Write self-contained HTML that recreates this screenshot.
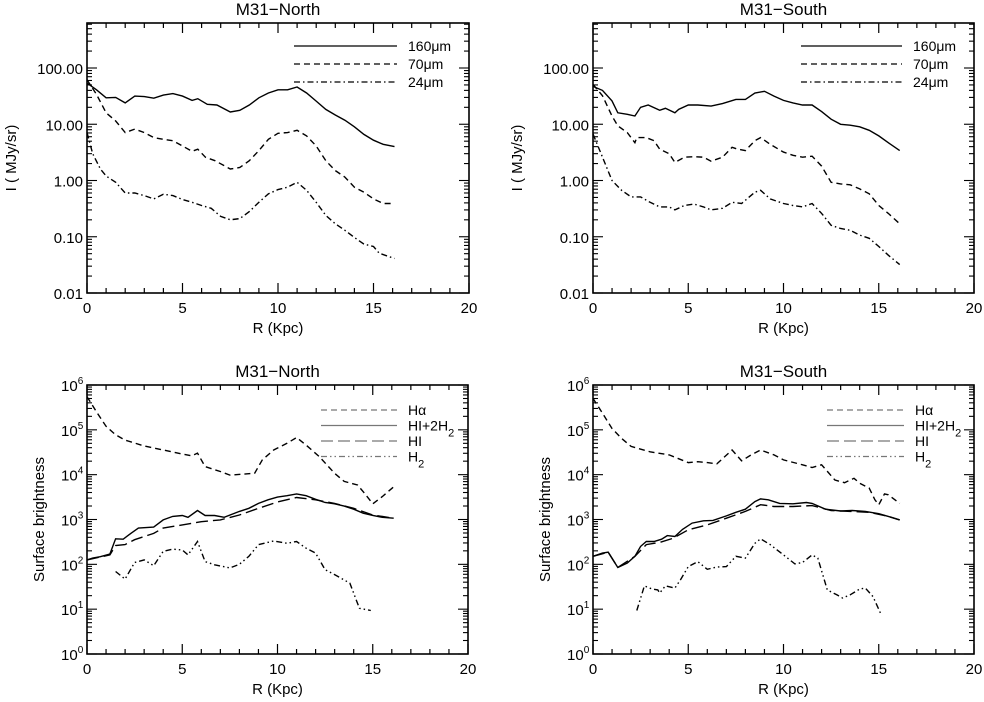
<!DOCTYPE html>
<html><head><meta charset="utf-8"><style>
html,body{margin:0;padding:0;background:#fff;}
svg{display:block;font-family:"Liberation Sans",sans-serif;}
</style></head><body>
<svg id="fig" width="984" height="702" viewBox="0 0 984 702" xmlns="http://www.w3.org/2000/svg"></svg>
<script>
// ---- Top panels: infrared intensity (MJy/sr) ----
const nR160 = [0,0.5,1,1.5,2,2.5,3,3.5,4,4.5,5,5.5,5.8,6.3,6.8,7.5,8,8.5,9,9.5,10,10.5,11,11.5,12,12.5,13,13.5,14,14.5,15,15.5,16.1];
const nV160 = [54,41,29.5,30,24,31.6,31,29,33,35,31.6,26.5,28.5,22.6,22,16.5,17.7,22,29.5,36,41,41,46,36,25.8,18.4,14.6,11.8,9,6.6,5.2,4.4,4.0];
const nR70 = [0,0.5,1,1.5,2,2.5,3,3.5,4,4.5,5,5.5,5.8,6.2,6.7,7.5,8,8.5,9,9.5,10,10.5,11,11.5,12,12.5,13,13.5,14,14.5,15,15.5,16.1];
const nV70 = [62,34,16,11.4,7.1,8.2,7.1,5.8,5.4,5.1,4.1,3.3,3.6,2.6,2.25,1.6,1.7,2.25,3.4,5.4,6.9,7.1,7.8,6.2,4.1,2.25,1.5,1.15,0.76,0.62,0.47,0.39,0.39];
const nR24 = [0,0.3,0.7,1,1.5,2,2.5,3,3.5,4,4.5,5,5.5,6,6.5,7,7.5,8,8.5,9,9.5,10,10.5,11,11.5,12,12.5,13,13.5,14,14.5,15,15.3,16.1];
const nV24 = [7.1,3,1.6,1.2,0.93,0.6,0.6,0.54,0.47,0.57,0.54,0.46,0.41,0.36,0.32,0.23,0.2,0.21,0.28,0.41,0.58,0.69,0.76,0.93,0.67,0.41,0.24,0.17,0.13,0.097,0.074,0.067,0.051,0.041];
const sR160 = [0,0.5,1,1.3,1.8,2.2,2.5,2.9,3.5,3.8,4.3,4.5,5,5.5,6.2,6.8,7.5,8,8.5,9,9.5,10,10.5,11,11.5,12,12.5,13,13.5,14,14.5,15,15.5,16.1];
const sV160 = [47,40,26,16,15,14,20,22,17.7,19.2,16,18.4,22,22,21,23.3,27.6,27.6,36,38.6,31.6,26.5,24,22,22,16.8,12.3,10,9.6,9,7.8,6.2,4.7,3.4];
const sR70 = [0,0.5,1,1.3,1.8,2.2,2.3,2.8,3.2,3.5,4,4.3,4.8,5.3,5.8,6.2,6.8,7.3,7.6,8,8.5,8.8,9.3,10,10.5,11,11.5,12,12.5,13,13.5,14,14.5,15,15.5,16.1];
const sV70 = [51,32,14,9.4,7.1,4.7,5.8,5.8,5.1,3.6,3,2.1,2.6,2.65,2.6,2.2,2.6,3.9,3.6,3.4,5.1,5.8,4.4,3.2,2.8,2.6,2.7,1.8,0.93,0.87,0.84,0.71,0.58,0.36,0.26,0.17];
const sR24 = [0,0.5,1,1.5,2,2.5,3,3.5,4,4.3,4.8,5.3,5.8,6.2,6.8,7.3,7.8,8.5,8.8,9.3,10,10.5,11,11.5,12,12.5,13,13.5,14,14.5,15,15.5,16.1];
const sV24 = [6.7,2.6,1,0.67,0.51,0.51,0.41,0.34,0.34,0.3,0.36,0.38,0.34,0.3,0.32,0.41,0.39,0.62,0.67,0.47,0.39,0.36,0.34,0.39,0.26,0.16,0.14,0.13,0.107,0.094,0.067,0.047,0.032];
// ---- Bottom panels: log10 surface brightness ----
const nRHa = [0,0.5,1,1.5,2,3,4,5,5.5,5.8,6.2,7,7.5,8.8,9.2,9.8,10.5,11,11.5,12.2,13,13.5,14.2,14.5,15,15.5,16.1];
const nLHa = [5.74,5.4,5.08,4.89,4.77,4.64,4.55,4.46,4.42,4.48,4.18,4.07,3.99,4.03,4.33,4.55,4.7,4.83,4.66,4.4,4.03,3.85,3.77,3.62,3.35,3.51,3.73];
const nRTot = [0,0.3,0.7,1.2,1.5,1.9,2.3,2.7,3.5,4,4.5,5,5.3,5.8,6.2,6.7,7.2,8,8.5,9,9.5,10,10.5,11,11.5,12,12.5,13,13.5,14,14.5,15,15.5,16.1];
const nLTot = [2.1,2.14,2.17,2.23,2.57,2.56,2.69,2.81,2.83,2.99,3.07,3.09,3.05,3.2,3.09,3.09,3.05,3.18,3.25,3.36,3.44,3.5,3.53,3.57,3.53,3.45,3.38,3.35,3.3,3.23,3.14,3.09,3.05,3.03];
const nRHI = [0,1.2,1.5,2,2.5,3,3.5,4,5,6,7,8,9,10,11,12,13,14,15,16.1];
const nLHI = [2.1,2.21,2.42,2.44,2.55,2.62,2.69,2.81,2.88,2.95,2.99,3.1,3.25,3.39,3.49,3.44,3.36,3.25,3.1,3.03];
const nRH2 = [1.5,2,2.5,3,3.5,4,4.5,5,5.3,5.8,6.2,6.7,7.5,8,8.5,9,9.8,10.5,11,11.5,12,12.5,13,13.8,14.3,14.9];
const nLH2 = [1.84,1.67,2.04,2.1,1.97,2.29,2.34,2.32,2.21,2.51,2.06,1.99,1.92,2.0,2.18,2.44,2.52,2.47,2.51,2.36,2.25,1.88,1.77,1.58,1.02,0.97];
const sRHa = [0,0.5,1,1.5,2,3,4,5,5.5,6,6.5,7.3,7.8,8.3,8.8,9.5,10,11,11.5,12,12.7,13.2,13.7,14,14.5,14.8,15,15.3,15.5,16.1];
const sLHa = [5.7,5.37,5.03,4.81,4.63,4.51,4.44,4.27,4.29,4.27,4.24,4.55,4.31,4.44,4.55,4.44,4.33,4.22,4.16,4.22,3.88,3.82,3.92,3.81,3.7,3.44,3.33,3.57,3.55,3.36];
const sRTot = [0,0.5,0.8,1.3,1.8,2.2,2.5,2.8,3.2,3.6,3.9,4.3,4.7,5.2,5.8,6.3,7,7.5,8,8.5,8.8,9.2,9.8,10.5,11.2,11.5,12.2,13,13.6,14.3,15,15.5,16.1];
const sLTot = [2.18,2.25,2.27,1.93,2.03,2.18,2.4,2.51,2.51,2.56,2.64,2.62,2.78,2.92,2.97,2.98,3.08,3.16,3.23,3.4,3.46,3.44,3.36,3.35,3.38,3.36,3.23,3.19,3.2,3.18,3.13,3.07,2.99];
const sRHI = [0,0.8,1.3,2.2,2.8,3.5,4.2,5,6,7,8,8.8,9.5,10.5,11.5,12.5,13.5,14.5,15.5,16.1];
const sLHI = [2.18,2.27,1.93,2.18,2.44,2.49,2.58,2.77,2.88,3.03,3.18,3.33,3.29,3.29,3.31,3.2,3.18,3.16,3.07,2.99];
const sRH2 = [2.3,2.7,3.1,3.4,3.5,3.8,4.3,4.6,5,5.5,6,6.5,7,7.5,8,8.5,8.8,9.3,10,10.6,11,11.5,11.8,12.3,12.8,13.1,13.5,14,14.3,14.7,15.1];
const sLH2 = [0.97,1.52,1.45,1.43,1.36,1.52,1.47,1.66,1.95,2.06,1.89,1.94,1.95,2.18,2.14,2.47,2.57,2.44,2.21,2.01,2.04,2.21,2.14,1.43,1.32,1.25,1.32,1.45,1.47,1.28,0.9];
const xTicks = [0,5,10,15,20];
const topYTicks = ["0.01","0.10","1.00","10.00","100.00"];

const NS = "http://www.w3.org/2000/svg";
const fig = document.getElementById('fig');
function el(tag, attrs, parent, text){
  const e = document.createElementNS(NS, tag);
  for (const k in attrs) e.setAttribute(k, attrs[k]);
  if (text !== undefined) e.textContent = text;
  (parent||fig).appendChild(e);
  return e;
}
function makePanel(cfg){
  const g = el('g', {});
  
  
  const L=cfg.left, R=cfg.right, T=cfg.top, B=cfg.bottom;
  const xs = v => L + (v/20)*(R-L);
  const ys = lg => B - (lg - cfg.lmin)/(cfg.lmax - cfg.lmin)*(B-T);
  // frame
  const fr = el('rect', {x:L, y:T, width:R-L, height:B-T, fill:'none', stroke:'#000', 'stroke-width':1.6}, g);
  
  
  // x ticks
  for (let v=0; v<=20; v++){
    const len = (v%5===0)?10:5;
    el('line', {x1:xs(v), x2:xs(v), y1:B, y2:B-len, stroke:'#000','stroke-width':1.2}, g);
    el('line', {x1:xs(v), x2:xs(v), y1:T, y2:T+len, stroke:'#000','stroke-width':1.2}, g);
  }
  xTicks.forEach(v=>{
    const t = el('text', {x:xs(v), y:B+20, 'font-size':15, 'text-anchor':'middle'}, g, String(v));
    
    
  });
  // y ticks (log)
  for (let d=Math.floor(cfg.lmin); d<=Math.ceil(cfg.lmax); d++){
    for (let m=1; m<=9; m++){
      const lg = d + Math.log10(m);
      if (lg < cfg.lmin-1e-9 || lg > cfg.lmax+1e-9) continue;
      const len = m===1?10:5;
      el('line', {x1:L, x2:L+len, y1:ys(lg), y2:ys(lg), stroke:'#000','stroke-width':1.1}, g);
      el('line', {x1:R, x2:R-len, y1:ys(lg), y2:ys(lg), stroke:'#000','stroke-width':1.1}, g);
    }
  }
  if (cfg.kind==='top'){
    topYTicks.forEach((s,i)=>{
      const t = el('text', {x:L-4, y:ys(-2+i)+6, 'font-size':15, 'text-anchor':'end'}, g, s);
      
      
    });
  } else {
    for (let d=0; d<=6; d++){
      const t = el('text', {x:L-26, y:ys(d)+6, 'font-size':15}, g);
      
      
      el('tspan', {}, t, '10');
      el('tspan', {dy:-7, 'font-size':10}, t, String(d));
    }
  }
  // titles
  const ti = el('text', {x:(L+R)/2, y:T-8, 'font-size':17, 'text-anchor':'middle'}, g, cfg.title);
  
  
  const xl = el('text', {x:(L+R)/2, y:B+40, 'font-size':15, 'text-anchor':'middle'}, g, 'R (Kpc)');
  
  
  const yx = cfg.kind==='top' ? L-71 : L-43;
  const yl = el('text', {x:yx, y:(T+B)/2, 'font-size':15, 'text-anchor':'middle', transform:`rotate(-90 ${yx} ${(T+B)/2})`}, g, cfg.ylabel);
  
  
  // series
  cfg.series.forEach(s=>{
    const pts = s.r.map((r,i)=>xs(r).toFixed(1)+','+ys(cfg.kind==='top'?Math.log10(s.v[i]):s.v[i]).toFixed(1)).join(' ');
    const p = el('polyline', {points:pts, fill:'none', stroke:'#000', 'stroke-width':1.4, 'stroke-dasharray':s.dash}, g);
    
    
  });
  // legend
  cfg.legend.forEach((lg,i)=>{
    const y = cfg.legY + i*cfg.legDy;
    const ln = el('line', {x1:cfg.legX1, x2:cfg.legX2, y1:y, y2:y, stroke:cfg.kind==='top'?'#000':'#777', 'stroke-width':1.2, 'stroke-dasharray':lg.dash}, g);
    
    
    const t = el('text', {x:cfg.legX2+11, y:y+5, 'font-size':14}, g);
    
    
    el('tspan', {}, t, lg.label);
    if (lg.sub) el('tspan', {dy:6, 'font-size':11}, t, lg.sub);
    if (lg.after) el('tspan', {dy:-6}, t, lg.after);
  });
}
const topLeg = [{label:'160\u03BCm',dash:''},{label:'70\u03BCm',dash:'6,4'},{label:'24\u03BCm',dash:'6,3,1.5,3'}];
const botLeg = [{label:'H\u03B1',dash:'6,4'},{label:'HI+2H',sub:'2',dash:''},{label:'HI',dash:'12,5'},{label:'H',sub:'2',dash:'6,3,1.5,3,1.5,3'}];
makePanel({name:'panel-ir-north', kind:'top', title:'M31\u2212North', ylabel:'I ( MJy/sr)', left:87, right:469, top:23, bottom:293, lmin:-2, lmax:2.8,
  series:[{name:'line-160um',r:nR160,v:nV160,dash:''},{name:'line-70um',r:nR70,v:nV70,dash:'6,4'},{name:'line-24um',r:nR24,v:nV24,dash:'6,3,1.5,3'}],
  legend:topLeg, legX1:294, legX2:397, legY:46, legDy:18});
makePanel({name:'panel-ir-south', kind:'top', title:'M31\u2212South', ylabel:'I ( MJy/sr)', left:593, right:974, top:23, bottom:293, lmin:-2, lmax:2.8,
  series:[{name:'line-160um',r:sR160,v:sV160,dash:''},{name:'line-70um',r:sR70,v:sV70,dash:'6,4'},{name:'line-24um',r:sR24,v:sV24,dash:'6,3,1.5,3'}],
  legend:topLeg, legX1:801, legX2:902, legY:46, legDy:18});
makePanel({name:'panel-gas-north', kind:'bot', title:'M31\u2212North', ylabel:'Surface brightness', left:87, right:468, top:385, bottom:654, lmin:0, lmax:6,
  series:[{name:'line-halpha',r:nRHa,v:nLHa,dash:'6,4'},{name:'line-hi-2h2',r:nRTot,v:nLTot,dash:''},{name:'line-hi',r:nRHI,v:nLHI,dash:'12,5'},{name:'line-h2',r:nRH2,v:nLH2,dash:'6,3,1.5,3,1.5,3'}],
  legend:botLeg, legX1:321, legX2:397, legY:410, legDy:15.5});
makePanel({name:'panel-gas-south', kind:'bot', title:'M31\u2212South', ylabel:'Surface brightness', left:593, right:974, top:385, bottom:654, lmin:0, lmax:6,
  series:[{name:'line-halpha',r:sRHa,v:sLHa,dash:'6,4'},{name:'line-hi-2h2',r:sRTot,v:sLTot,dash:''},{name:'line-hi',r:sRHI,v:sLHI,dash:'12,5'},{name:'line-h2',r:sRH2,v:sLH2,dash:'6,3,1.5,3,1.5,3'}],
  legend:botLeg, legX1:827, legX2:904, legY:410, legDy:15.5});
</script>
</body></html>
